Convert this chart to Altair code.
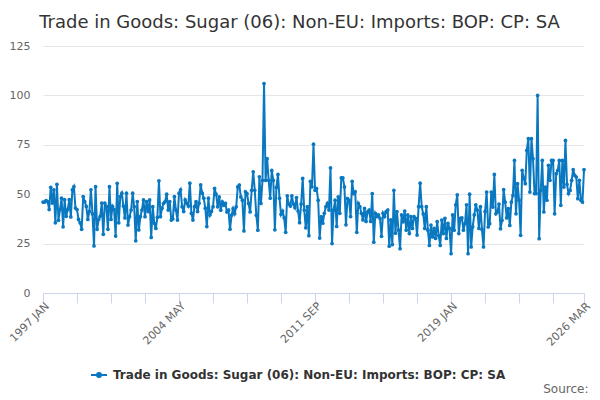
import altair as alt
import pandas as pd

series_name = "Trade in Goods: Sugar (06): Non-EU: Imports: BOP: CP: SA"
title_text = "Trade in Goods: Sugar (06): Non-EU: Imports: BOP: CP: SA"
start_year = 1997
month_names = ["JAN", "FEB", "MAR", "APR", "MAY", "JUN",
               "JUL", "AUG", "SEP", "OCT", "NOV", "DEC"]

# monthly values (1997 JAN .. 2026 MAR)
values_1997_2001 = [
    46, 46, 46.8, 46.3, 42.2, 53.5, 45.5, 52.2, 35.5, 55,
    36.8, 42.2, 48, 33.5, 47.2, 38.8, 42.2, 47.2, 38.5, 52.2,
    53.8, 43, 42.2, 37.2, 35.5, 32.2, 48.8, 46.3, 43.8, 37.2,
    41.3, 52.2, 40, 23.8, 53.8, 32.2, 37.2, 38.8, 45.5, 29.7,
    45.5, 43.8, 32.2, 53.8, 37.2, 43.8, 42.2, 28.8, 55.5, 35.5,
    48.8, 50.5, 44, 38,
]
values_2001_2006 = [
    50.5, 34.4, 38.6, 42, 50.5, 43.7, 26.4, 46.3, 31.9, 38.6,
    42, 47.1, 38.6, 46.3, 41.2, 47.1, 28.1, 43.7, 35.3, 32.7,
    38.3, 56.8, 38.6, 42.9, 45.4, 46.3, 50, 42, 46.3, 36.9,
    37.5, 48.8, 42, 36.9, 50.5, 52.2, 43.7, 41.2, 47.1, 45.4,
    44, 55.6, 40.3, 36.9, 43.7, 46.3, 41.2, 45.4, 54.7, 50.5,
    48, 42.9, 33.6, 48, 39.5, 41.2, 43.7, 53,
]
values_2006_2008 = [
    50, 43.6, 48.6, 41.9, 46.1, 44.4, 45.3, 41, 41.9, 32.3,
    39.4, 42.7, 40.2, 43.6, 53.7, 54.6, 48.6, 47, 31.4, 51.2,
    50.3, 45.3, 41, 52, 61.3, 52, 39.4, 31.8, 58.8, 45.3,
    57, 106,
]
values_2009_2011 = [
    57, 68, 57, 48, 62, 57, 32, 53.4, 60, 48,
    39.8, 41.5, 38.1, 30.7, 49.2, 45, 44, 49.2, 45, 43.2,
    48.3, 41.5, 35.6, 45, 58, 42, 33, 43.7, 29,
]
values_2011_2016 = [
    56.5, 53.7, 75.3, 52, 52.8, 47, 27.8, 38.7, 35.3, 40.3,
    43.7, 45.3, 42, 63.3, 25, 42, 47, 33.7, 48.7, 40.3,
    58.3, 58.3, 53.7, 34.5, 47.8, 47, 38.7, 56.5, 50.3, 51.2,
    30.7, 45.3, 43.7, 40.3, 37, 42.8, 36.2, 41, 42, 36.2,
    50.3, 25.7, 40.3, 38.7, 39.5, 37.8, 28.7, 40.3, 38.7, 41.2,
    42, 23.7, 37, 24.5, 52, 30.3,
]
values_2016_2020 = [
    41.2, 31.8, 22.4, 39.5, 36, 41.5, 31.8, 39.5, 30.1, 38.6,
    32.7, 38.6, 37.8, 29.3, 43.7, 55.6, 43.7, 40, 32.7, 43.7,
    31.8, 24.1, 34.4, 28.4, 32.7, 27.6, 36.1, 29, 24.1, 36.9,
    30.1, 37.8, 27.6, 35.2, 32.7, 19.9, 39.5, 31.8, 44.6, 49.7,
    30.1, 37.8, 38, 31.8, 35.2, 44.6, 19.9, 50, 23.3, 33.5,
    39.5, 44.6, 42, 32.7, 43.7, 32.1, 23.3, 41.2,
]
values_2021_2026 = [
    51.1, 33.4, 35.1, 51.1, 43.5, 60, 40.1, 41, 45, 32.5,
    36.8, 52.3, 46, 38, 42.7, 34.2, 46, 49.4, 67.1, 40.1,
    55.3, 47, 29.2, 62.1, 58, 55.3, 72.2, 78.1, 51.1, 78.1,
    68, 50.3, 50.3, 100, 27.5, 51.9, 67.1, 41, 53.6, 47,
    64.6, 57, 67.1, 67.1, 40.1, 60.4, 62.1, 67.1, 44.4, 67.1,
    53.6, 77.2, 55, 50.3, 51.9, 57, 62.4, 59.5, 58.7, 47.7,
    57, 46.9, 46, 62.4,
]

values = (values_1997_2001 + values_2001_2006 + values_2006_2008
          + values_2009_2011 + values_2011_2016 + values_2016_2020
          + values_2021_2026)
n = len(values)
months = [f"{start_year + i // 12} {month_names[i % 12]}" for i in range(n)]

df = pd.DataFrame({"idx": range(n), "Month": months, "Value": values, "Series": series_name})

tick_vals = list(range(0, n - 20, 22)) + [n - 1]
label_vals = [0, 88, 176, 264, n - 1]
label_expr = " : ".join(f"datum.value == {v} ? '{months[v]}'" for v in label_vals) + " : ''"

blue = "#0a78c0"
font = "DejaVu Sans"
# legend symbol: short line with a small dot (octagon) in the middle
legend_symbol = ("M-1,0L1,0M0.28,0L0.2,0.2L0,0.28L-0.2,0.2L-0.28,0"
                 "L-0.2,-0.2L0,-0.28L0.2,-0.2Z")

chart = (
    alt.Chart(df)
    .mark_line(strokeWidth=2, point=alt.OverlayMarkDef(size=14, filled=True))
    .encode(
        x=alt.X(
            "idx:Q",
            scale=alt.Scale(domain=[0, n - 1], nice=False, zero=False),
            axis=alt.Axis(
                values=tick_vals, labelExpr=label_expr, labelAngle=-45,
                labelFont=font, labelFontSize=11, labelColor="#666666",
                labelPadding=-3, labelOverlap=False, labelFlush=False,
                grid=False, domainColor="#ccd6eb", tickColor="#ccd6eb", tickSize=10,
                title="Source:", titleFont=font, titleFontSize=12,
                titleFontWeight="normal", titleColor="#666666",
                titleX=545, titleY=99, titleAlign="right", titleBaseline="alphabetic",
            ),
        ),
        y=alt.Y(
            "Value:Q",
            scale=alt.Scale(domain=[0, 125], nice=False),
            axis=alt.Axis(
                values=[0, 25, 50, 75, 100, 125], title=None, domain=False, ticks=False,
                labelFont=font, labelFontSize=11, labelColor="#666666", labelPadding=13,
                gridColor="#e6e6e6",
            ),
        ),
        color=alt.Color(
            "Series:N",
            scale=alt.Scale(domain=[series_name], range=[blue]),
            legend=alt.Legend(
                title=None, orient="none", legendX=47, legendY=320, padding=0,
                symbolType=legend_symbol,
                symbolSize=256, symbolStrokeWidth=2, symbolFillColor=blue,
                labelFont=font, labelFontSize=12, labelFontWeight="bold",
                labelColor="#333333", labelLimit=600, labelOffset=5,
            ),
        ),
    )
    .properties(
        width=541,
        height=247,
        padding={"left": 35, "top": 38, "right": 8, "bottom": 102},
        autosize=alt.AutoSizeParams(type="none"),
        title=alt.TitleParams(
            title_text, font=font, fontSize=18, fontWeight="normal", color="#333333",
            anchor="middle", dx=-14, dy=10, offset=18,
        ),
    )
    .configure_view(stroke=None)
)

chart.save("out.html", embed_options={"renderer": "svg", "actions": False})
